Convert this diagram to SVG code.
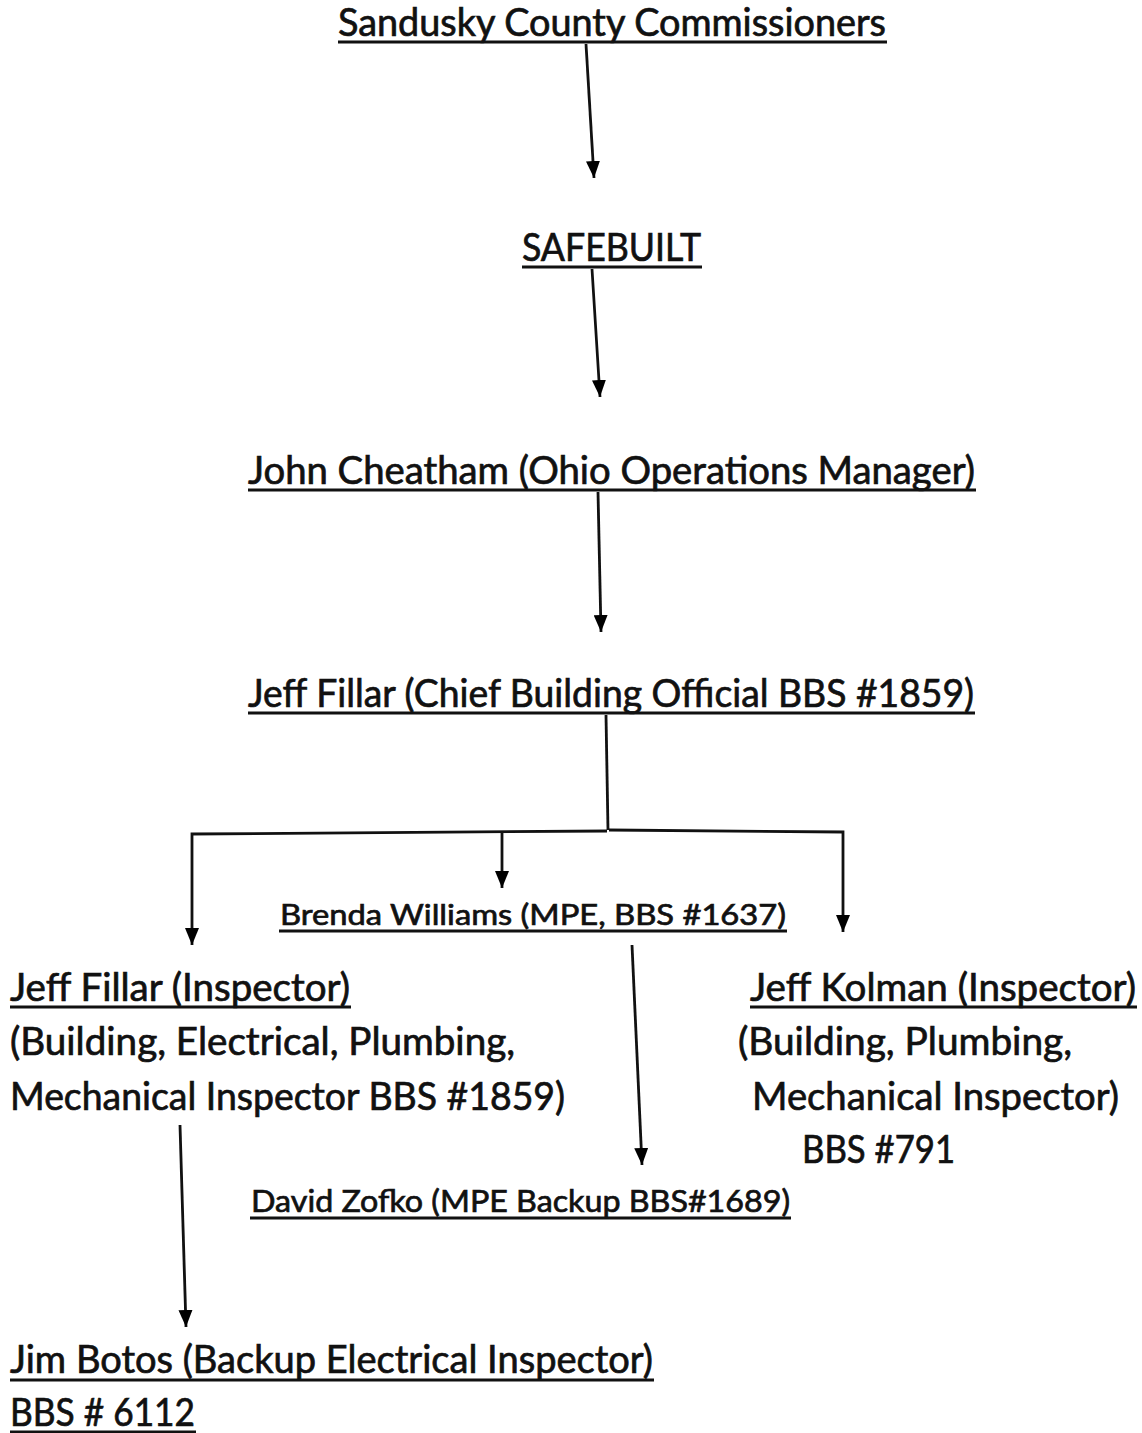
<svg xmlns="http://www.w3.org/2000/svg" width="1142" height="1433" viewBox="0 0 1142 1433">
<defs>
<marker id="ah" markerWidth="17" markerHeight="14" refX="17" refY="7" orient="auto" markerUnits="userSpaceOnUse" viewBox="0 0 17 14"><path d="M0,0 L17,7 L0,14 Z" fill="#000"/></marker>
<style>
text{font-family:Lato,"Open Sans","Liberation Sans",sans-serif;fill:#111;stroke:#111;stroke-width:0.7;}
.b{font-size:38px;}
.m{font-size:31px;}
.s{font-size:29px;}
.u{stroke:#111;stroke-width:3;}
.c{stroke:#111;stroke-width:2.8;fill:none;}
.a{marker-end:url(#ah);}
</style>
</defs>
<rect width="1142" height="1433" fill="#fff"/>
<g id="n1"><text class="b" x="338" y="36" textLength="548" lengthAdjust="spacingAndGlyphs">Sandusky County Commissioners</text><line class="u" x1="338" y1="42" x2="887" y2="42"/></g>
<g id="n2"><text class="b" x="522" y="261" textLength="179" lengthAdjust="spacingAndGlyphs">SAFEBUILT</text><line class="u" x1="522" y1="267" x2="702" y2="267"/></g>
<g id="n3"><text class="b" x="248" y="484" textLength="727" lengthAdjust="spacingAndGlyphs">John Cheatham (Ohio Operations Manager)</text><line class="u" x1="248" y1="490" x2="976" y2="490"/></g>
<g id="n4"><text class="b" x="248" y="707" textLength="726" lengthAdjust="spacingAndGlyphs">Jeff Fillar (Chief Building Official BBS #1859)</text><line class="u" x1="248" y1="713" x2="975" y2="713"/></g>
<g id="n5"><text class="s" x="280" y="925" textLength="506" lengthAdjust="spacingAndGlyphs">Brenda Williams (MPE, BBS #1637)</text><line class="u" x1="279" y1="931" x2="787" y2="931"/></g>
<g id="n6"><text class="b" x="10" y="1001" textLength="340" lengthAdjust="spacingAndGlyphs">Jeff Fillar (Inspector)</text><line class="u" x1="10" y1="1007" x2="351" y2="1007"/>
<text class="b" x="10" y="1055" textLength="505" lengthAdjust="spacingAndGlyphs">(Building, Electrical, Plumbing,</text>
<text class="b" x="10" y="1110" textLength="555" lengthAdjust="spacingAndGlyphs">Mechanical Inspector BBS #1859)</text></g>
<g id="n7"><text class="b" x="750" y="1001" textLength="386" lengthAdjust="spacingAndGlyphs">Jeff Kolman (Inspector)</text><line class="u" x1="750" y1="1007" x2="1137" y2="1007"/>
<text class="b" x="738" y="1055" textLength="334" lengthAdjust="spacingAndGlyphs">(Building, Plumbing,</text>
<text class="b" x="752" y="1110" textLength="367" lengthAdjust="spacingAndGlyphs">Mechanical Inspector)</text>
<text class="b" x="802" y="1163" textLength="153" lengthAdjust="spacingAndGlyphs">BBS #791</text></g>
<g id="n8"><text class="m" x="251" y="1212" textLength="539" lengthAdjust="spacingAndGlyphs">David Zofko (MPE Backup BBS#1689)</text><line class="u" x1="250" y1="1218" x2="791" y2="1218"/></g>
<g id="n9"><text class="b" x="10" y="1373" textLength="643" lengthAdjust="spacingAndGlyphs">Jim Botos (Backup Electrical Inspector)</text><line class="u" x1="10" y1="1380" x2="654" y2="1380"/>
<text class="b" x="10" y="1426" textLength="185" lengthAdjust="spacingAndGlyphs">BBS # 6112</text><line class="u" x1="10" y1="1432" x2="196" y2="1432"/></g>
<g id="connectors">
<line class="c a" x1="586" y1="44" x2="594" y2="178"/>
<line class="c a" x1="592" y1="269" x2="600" y2="397"/>
<line class="c a" x1="598" y1="492" x2="601" y2="632"/>
<polyline class="c" points="606,715 608,830"/>
<polyline class="c a" points="607,831 192,834 192,945"/>
<polyline class="c a" points="609,830 843,832 843,932"/>
<line class="c a" x1="502" y1="833" x2="502" y2="888"/>
<line class="c a" x1="632" y1="945" x2="642" y2="1165"/>
<line class="c a" x1="180" y1="1125" x2="186" y2="1327"/>
</g>
</svg>
